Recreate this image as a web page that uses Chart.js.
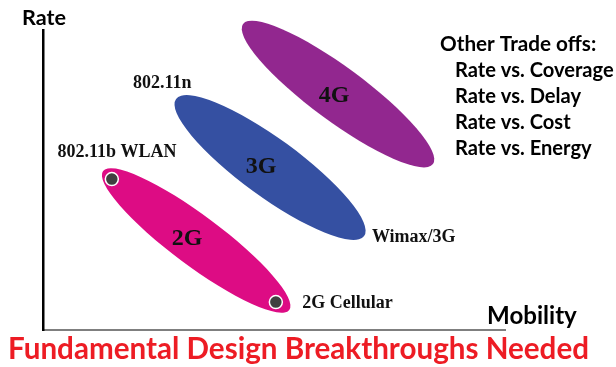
<!DOCTYPE html>
<html lang="en">
<head>
<meta charset="utf-8">
<title>Rate vs Mobility</title>
<script src="https://cdn.jsdelivr.net/npm/chart.js@4.4.0/dist/chart.umd.min.js"></script>
<style>
  body { margin: 0; background: #fff; }
  #wrap { width: 616px; height: 367px; }
</style>
</head>
<body>
<div id="wrap"><canvas id="myChart" width="616" height="367"></canvas></div>
<script>
  // technology bands: each ellipse runs from one end point to the other (mobility, rate)
  const techs = ['2G', '3G', '4G'];
  const mobilityFrom = [13.0, 28.8, 43.3];
  const rateFrom = [53.0, 77.0, 102.0];
  const mobilityTo = [53.3, 69.5, 84.4];
  const rateTo = [6.7, 31.3, 55.3];
  const techLabelMobility = [31.2, 47.2, 63.0];
  const techLabelRate = [28.3, 52.3, 76.0];

  // example systems (dots)
  const systems = ['802.11b WLAN', '2G Cellular'];
  const systemMobility = [14.9, 50.4];
  const systemRate = [50.3, 9.3];

  // callout labels
  const callouts = ['802.11b WLAN', '802.11n', 'Wimax/3G', '2G Cellular'];
  const calloutMobility = [16.0, 25.8, 71.2, 56.1];
  const calloutRate = [57.7, 80.7, 29.3, 7.3];
  const calloutAlign = ['center', 'center', 'left', 'left'];

  const tradeoffTitle = 'Other Trade offs:';
  const tradeoffs = ['Rate vs. Coverage', 'Rate vs. Delay', 'Rate vs. Cost', 'Rate vs. Energy'];

  // styles
  const bandColors = ['#dd0c84', '#3550a2', '#92278f'];
  const bandHalfWidth = [25, 29, 27];
  const serif = '"Liberation Serif", "Times New Roman", serif';
  const sans = 'Lato, "Open Sans", sans-serif';

  // shrink/grow a font so the text gets a given width
  function fitFont(ctx, text, family, width) {
    ctx.font = 'bold 100px ' + family;
    var size = 100 * width / ctx.measureText(text).width;
    return 'bold ' + size.toFixed(1) + 'px ' + family;
  }

  const bandsPlugin = {
    id: 'bands',
    beforeDatasetsDraw(chart) {
      const ctx = chart.ctx, xs = chart.scales.x, ys = chart.scales.y;
      ctx.save();
      for (let i = 0; i < techs.length; i++) {
        const x1 = xs.getPixelForValue(mobilityFrom[i]), y1 = ys.getPixelForValue(rateFrom[i]);
        const x2 = xs.getPixelForValue(mobilityTo[i]), y2 = ys.getPixelForValue(rateTo[i]);
        const cx = (x1 + x2) / 2, cy = (y1 + y2) / 2;
        const a = Math.hypot(x2 - x1, y2 - y1) / 2;
        const ang = Math.atan2(y2 - y1, x2 - x1);
        ctx.beginPath();
        ctx.ellipse(cx, cy, a, bandHalfWidth[i], ang, 0, Math.PI * 2);
        ctx.fillStyle = bandColors[i];
        ctx.fill();
      }
      ctx.restore();
    },
    afterDatasetsDraw(chart) {
      const ctx = chart.ctx, xs = chart.scales.x, ys = chart.scales.y;
      ctx.save();
      ctx.fillStyle = '#111';
      ctx.textBaseline = 'alphabetic';
      // band names
      ctx.font = 'bold 24px ' + serif;
      ctx.textAlign = 'center';
      for (let i = 0; i < techs.length; i++) {
        ctx.fillText(techs[i], xs.getPixelForValue(techLabelMobility[i]), ys.getPixelForValue(techLabelRate[i]));
      }
      // callouts
      ctx.font = 'bold 18px ' + serif;
      for (let i = 0; i < callouts.length; i++) {
        ctx.textAlign = calloutAlign[i];
        ctx.fillText(callouts[i], xs.getPixelForValue(calloutMobility[i]), ys.getPixelForValue(calloutRate[i]));
      }
      // axis names
      ctx.fillStyle = '#000';
      ctx.textAlign = 'left';
      ctx.font = fitFont(ctx, 'Rate', sans, 44);
      ctx.fillText('Rate', 22, 25);
      ctx.font = fitFont(ctx, 'Mobility', sans, 90);
      ctx.fillText('Mobility', 487, 324);
      // trade offs
      ctx.font = fitFont(ctx, tradeoffTitle, sans, 156);
      ctx.fillText(tradeoffTitle, 440, 51);
      ctx.font = fitFont(ctx, tradeoffs[0], sans, 159);
      tradeoffs.forEach(function (t, i) {
        ctx.fillText(t, 455, 77 + i * 26);
      });
      // bottom banner
      const banner = 'Fundamental Design Breakthroughs Needed';
      ctx.fillStyle = '#ed1c24';
      ctx.font = fitFont(ctx, banner, sans, 582);
      ctx.fillText(banner, 8, 359);
      ctx.restore();
    }
  };

  const points = systems.map(function (s, i) {
    return { x: systemMobility[i], y: systemRate[i] };
  });

  new Chart(document.getElementById('myChart'), {
    type: 'scatter',
    data: {
      datasets: [{
        label: 'Systems',
        data: points,
        pointRadius: 6.5,
        pointBackgroundColor: '#404040',
        pointBorderColor: '#ffffff',
        pointBorderWidth: 1.5
      }]
    },
    options: {
      responsive: false,
      animation: false,
      layout: { padding: { left: 43, top: 30, right: 111, bottom: 37 } },
      plugins: { legend: { display: false }, tooltip: { enabled: false } },
      scales: {
        x: {
          type: 'linear', min: 0, max: 100,
          grid: { display: false, drawTicks: false },
          ticks: { display: false },
          border: { display: true, color: '#7f7f7f', width: 2 }
        },
        y: {
          type: 'linear', min: 0, max: 100,
          grid: { display: false, drawTicks: false },
          ticks: { display: false },
          border: { display: true, color: '#000000', width: 2.5 }
        }
      }
    },
    plugins: [bandsPlugin]
  });
</script>
</body>
</html>
